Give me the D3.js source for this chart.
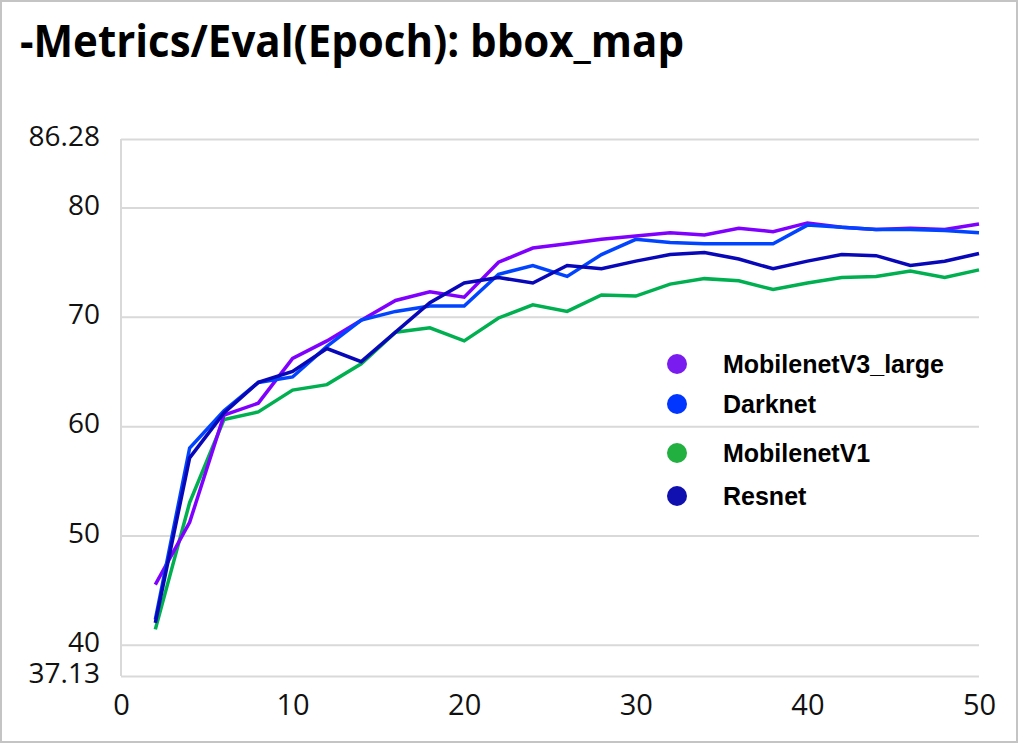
<!DOCTYPE html>
<html>
<head>
<meta charset="utf-8">
<script src="https://cdn.jsdelivr.net/npm/d3@7/dist/d3.min.js"></script>
<style>
  html, body { margin: 0; padding: 0; background: #fff; }
  svg { display: block; }
</style>
</head>
<body>
<svg id="chart" width="1018" height="743"></svg>
<script>
// ---- data ----
const epochs = [2,4,6,8,10,12,14,16,18,20,22,24,26,28,30,32,34,36,38,40,42,44,46,48,50];
const mobilenetV3Large = [45.5,51.2,61.0,62.1,66.2,67.8,69.7,71.5,72.3,71.8,75.0,76.3,76.7,77.1,77.4,77.7,77.5,78.1,77.8,78.6,78.2,78.0,78.1,78.0,78.5];
const darknet          = [42.3,58.0,61.4,64.0,64.5,67.3,69.7,70.5,71.0,71.0,73.9,74.7,73.7,75.7,77.1,76.8,76.7,76.7,76.7,78.4,78.2,78.0,78.0,77.9,77.7];
const mobilenetV1      = [41.4,53.0,60.6,61.3,63.3,63.8,65.7,68.6,69.0,67.8,69.9,71.1,70.5,72.0,71.9,73.0,73.5,73.3,72.5,73.1,73.6,73.7,74.2,73.6,74.3];
const resnet           = [42.0,57.1,61.2,64.0,65.0,67.1,65.9,68.6,71.3,73.1,73.6,73.1,74.7,74.4,75.1,75.7,75.9,75.3,74.4,75.1,75.7,75.6,74.7,75.1,75.8];
const seriesNames = ["MobilenetV3_large","Darknet","MobilenetV1","Resnet"];
const yTickValues = [37.13,40,50,60,70,80,86.28];
const yTickLabels = ["37.13","40","50","60","70","80","86.28"];
const xTickValues = [0,10,20,30,40,50];
const titleText = "-Metrics/Eval(Epoch): bbox_map";

// ---- styles ----
const lineColors   = {"MobilenetV3_large":"#8000ff","Darknet":"#0044ff","MobilenetV1":"#00b050","Resnet":"#0808b8"};
const markerColors = {"MobilenetV3_large":"#7a1cf0","Darknet":"#0036ff","MobilenetV1":"#22b040","Resnet":"#1010b0"};
const valuesByName = {"MobilenetV3_large":mobilenetV3Large,"Darknet":darknet,"MobilenetV1":mobilenetV1,"Resnet":resnet};
const drawOrder = ["MobilenetV1","MobilenetV3_large","Darknet","Resnet"];

const svg = d3.select("#chart");
const W = 1018, H = 743;

// outer border
svg.append("rect").attr("x",1).attr("y",1).attr("width",W-2).attr("height",H-2)
  .attr("fill","#fff").attr("stroke","#c4c4c4").attr("stroke-width",2);

// title
svg.append("text").attr("x",20).attr("y",57)
  .attr("font-family","'Open Sans', 'Liberation Sans', sans-serif")
  .attr("font-weight",700).attr("font-size",45)
  .attr("textLength",664).attr("lengthAdjust","spacingAndGlyphs")
  .attr("fill","#000").text(titleText);

const plotLeft = 121, plotRight = 979, plotTop = 139, plotBottom = 676;
const x = d3.scaleLinear().domain([0,50]).range([plotLeft,plotRight]);
const y = d3.scaleLinear().domain([37.13,86.28]).range([plotBottom,plotTop]);

// y axis with gridlines
const yAxis = d3.axisLeft(y).tickValues(yTickValues)
  .tickSize(-(plotRight-plotLeft)).tickPadding(21)
  .tickFormat((d,i)=>yTickLabels[i]);
const gy = svg.append("g").attr("transform",`translate(${plotLeft},0)`).call(yAxis);
gy.select(".domain").remove();
gy.selectAll(".tick line").attr("stroke","#d9d9d9").attr("stroke-width",2);
gy.selectAll(".tick text")
  .attr("font-family","'Open Sans', sans-serif").attr("font-size",28)
  .attr("fill","#111").attr("dy","0.24em");

// left vertical axis line
svg.append("line").attr("x1",plotLeft).attr("x2",plotLeft).attr("y1",plotTop).attr("y2",plotBottom)
  .attr("stroke","#d9d9d9").attr("stroke-width",2);

// x axis
const xAxis = d3.axisBottom(x).tickValues(xTickValues).tickSize(0).tickPadding(18)
  .tickFormat(d3.format("d"));
const gx = svg.append("g").attr("transform",`translate(0,${plotBottom})`).call(xAxis);
gx.select(".domain").remove();
gx.selectAll(".tick text")
  .attr("font-family","'Open Sans', sans-serif").attr("font-size",29)
  .attr("fill","#111");

// lines
const line = d3.line().x((d,i)=>x(epochs[i])).y(d=>y(d));
drawOrder.forEach(name=>{
  svg.append("path").datum(valuesByName[name])
    .attr("d",line).attr("fill","none")
    .attr("stroke",lineColors[name]).attr("stroke-width",3.5)
    .attr("stroke-linejoin","miter").attr("stroke-linecap","butt");
});

// legend
const legendY = [364,404,453,496];
const legend = svg.append("g");
seriesNames.forEach((name,i)=>{
  legend.append("circle").attr("cx",677).attr("cy",legendY[i]).attr("r",10)
    .attr("fill",markerColors[name]);
  legend.append("text").attr("x",723).attr("y",legendY[i]+9)
    .attr("font-family","'Liberation Sans', Arial, sans-serif")
    .attr("font-weight",700).attr("font-size",25).attr("fill","#000")
    .text(name);
});
</script>
</body>
</html>
